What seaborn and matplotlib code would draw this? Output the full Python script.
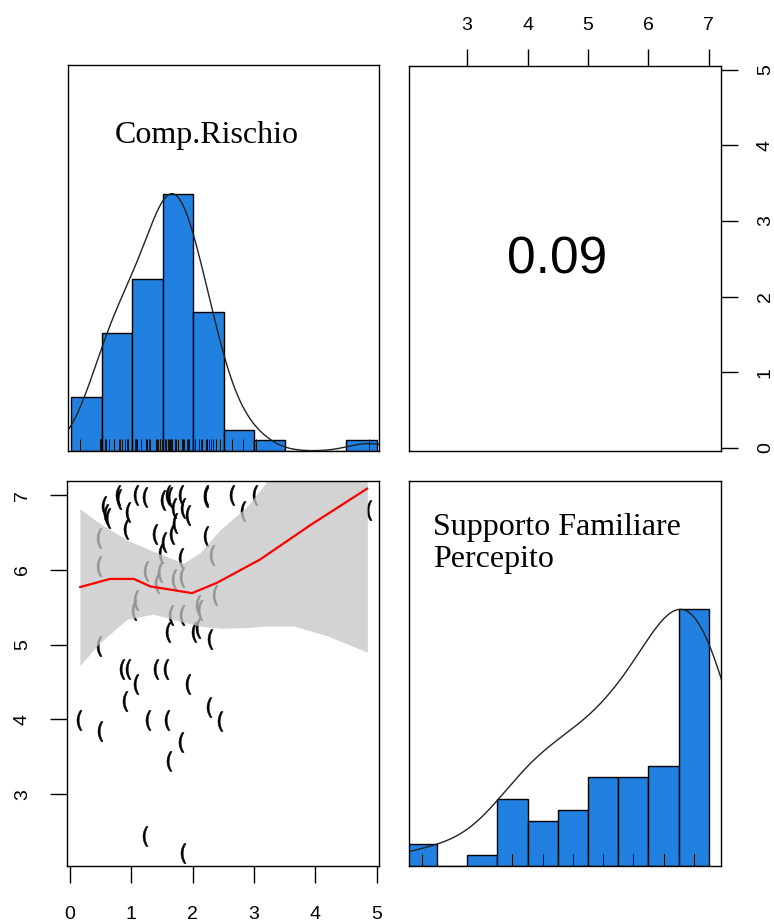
import numpy as np
import pandas as pd
import matplotlib
matplotlib.use("Agg")
import matplotlib.pyplot as plt
import seaborn as sns

# ---------------- data ----------------
comp_rischio = [0.78, 0.80, 1.08, 1.23, 1.51, 1.60, 1.63, 1.81, 2.21, 2.22, 2.64, 3.02,
                0.55, 0.58, 0.62, 0.94, 1.70, 1.85, 1.93, 2.82, 4.87, 0.92, 1.72,
                1.39, 1.66, 2.22, 0.48, 1.54, 1.49, 1.81, 2.32, 0.48,
                1.24, 1.46, 1.70, 1.82, 2.37, 1.08, 2.09, 1.42,
                1.05, 1.65, 1.82, 2.12, 1.60, 2.03, 2.09, 2.29,
                0.84, 0.94, 1.41, 1.56, 0.48,
                1.07, 1.92, 0.89, 2.26,
                0.15, 1.27, 1.58, 2.44, 0.49, 1.81,
                1.62,
                1.23, 1.84,
                0.70, 1.15, 1.30, 1.45, 1.75, 1.90, 2.15]
# raw (discrete) scale scores, used by the histogram and rug
supporto = [7.00, 7.00, 7.00, 7.00, 7.00, 7.00, 7.00, 7.00, 7.00, 7.00, 7.00, 7.00,
            6.75, 6.75, 6.75, 6.75, 6.75, 6.75, 6.75, 6.75, 6.75, 6.75, 6.75,
            6.50, 6.50, 6.50, 6.50, 6.50, 6.25, 6.25, 6.25, 6.25,
            6.00, 6.00, 6.00, 6.00, 5.75, 5.75, 5.75, 5.75,
            5.50, 5.50, 5.50, 5.50, 5.25, 5.25, 5.25, 5.25,
            4.75, 4.75, 4.75, 4.75, 5.00,
            4.50, 4.50, 4.25, 4.25,
            4.00, 4.00, 4.00, 4.00, 3.75, 3.75,
            3.50,
            2.50, 2.25,
            np.nan, np.nan, np.nan, np.nan, np.nan, np.nan, np.nan]
# jiggled positions as shown in the scatter panel
supporto_shown = [7.00, 6.95, 7.00, 6.98, 6.93, 7.00, 6.97, 7.00, 6.97, 7.00, 7.00, 7.00,
                  6.85, 6.75, 6.70, 6.77, 6.83, 6.83, 6.73, 6.79, 6.80, 6.55, 6.63,
                  6.48, 6.48, 6.46, 6.43, 6.38, 6.23, 6.16, 6.20, 6.05,
                  5.98, 5.97, 5.88, 5.90, 5.67, 5.60, 5.53, 5.83,
                  5.46, 5.40, 5.40, 5.47, 5.17, 5.17, 5.22, 5.07,
                  4.68, 4.68, 4.68, 4.68, 4.98,
                  4.47, 4.48, 4.25, 4.17,
                  3.99, 3.99, 3.99, 3.98, 3.85, 3.70,
                  3.45,
                  2.44, 2.22,
                  np.nan, np.nan, np.nan, np.nan, np.nan, np.nan, np.nan]

var_names = ["Comp.Rischio", "Supporto Familiare\nPercepito"]
corr_label = "0.09"

# loess smooth and its confidence band
smooth_x = [0.16, 0.65, 1.04, 1.31, 1.99, 2.40, 3.10, 3.92, 4.85]
smooth_y = [5.77, 5.88, 5.88, 5.78, 5.69, 5.83, 6.14, 6.60, 7.09]
band_x = [0.16, 0.49, 0.93, 1.36, 1.85, 2.12, 2.45, 2.89, 3.21, 3.65, 4.19, 4.85]
band_hi = [6.82, 6.62, 6.40, 6.25, 6.09, 6.23, 6.54, 6.85, 7.18, 7.60, 8.10, 8.80]
band_lo = [4.72, 5.03, 5.34, 5.41, 5.30, 5.25, 5.22, 5.23, 5.25, 5.25, 5.12, 4.90]

x1_ticks = [0, 1, 2, 3, 4, 5]
x2_ticks = [3, 4, 5, 6, 7]
y2_ticks = [3, 4, 5, 6, 7]
y1_ticks = [0, 1, 2, 3, 4, 5]

df = pd.DataFrame({"cr": comp_rischio, "sp": supporto, "sp_shown": supporto_shown})
pairs = df.dropna()

# ---------------- style ----------------
sns.set_style("white")
plt.rcParams["font.family"] = ["Liberation Sans", "DejaVu Sans"]
for k in ("text.color", "axes.labelcolor", "xtick.color", "ytick.color"):
    plt.rcParams[k] = "black"
HIST_COL = "#2180e0"
X1_LIM = (-0.05, 5.04)
X2_LIM = (2.04, 7.20)
EPS = 1e-6  # right-closed bins, as in R's hist()

fig = plt.figure(figsize=(7.74, 9.24), dpi=100)
W, H = 774, 924


def add_ax(x0, y0, x1, y1):
    return fig.add_axes([x0 / W, 1 - y1 / H, (x1 - x0) / W, (y1 - y0) / H])


ax_tl = add_ax(68, 65, 379, 451)
ax_tr = add_ax(409, 66, 721, 451)
ax_bl = add_ax(67, 481, 379, 866)
ax_br = add_ax(409, 481, 721, 866)

for ax in (ax_tl, ax_tr, ax_bl, ax_br):
    for s in ax.spines.values():
        s.set_visible(True)
        s.set_color("black")
        s.set_linewidth(1.0)


def nrd_density(vals):
    v = np.asarray(vals, dtype=float)
    v = v[~np.isnan(v)]
    n = len(v)
    q75, q25 = np.percentile(v, [75, 25])
    bw = 1.06 * min(np.std(v, ddof=1), (q75 - q25) / 1.34) * n ** (-0.2) * 1.2
    grid = np.linspace(v.min() - 3 * bw, v.max() + 3 * bw, 512)
    d = np.exp(-0.5 * ((grid[:, None] - v[None, :]) / bw) ** 2).sum(axis=1)
    return grid, d / d.max()


def diag_panel(ax, vals, bins, xlim):
    v = pd.Series(vals).dropna()
    counts, _ = np.histogram(v, bins=bins)
    mx = counts.max()
    sns.histplot(x=v, bins=bins, ax=ax, color=HIST_COL, edgecolor="black",
                 linewidth=1.0, alpha=1.0, stat="count")
    g, d = nrd_density(v)
    sns.lineplot(x=g, y=d * mx, ax=ax, color="#222222", linewidth=1.0,
                 estimator=None, sort=False)
    sns.rugplot(x=v, ax=ax, height=0.03, color="#111111", linewidth=0.7,
                expand_margins=False)
    ax.set_xlim(*xlim)
    ax.set_ylim(0, 1.5 * mx)
    ax.set_xticks([])
    ax.set_yticks([])
    ax.set_xlabel("")
    ax.set_ylabel("")


comp_bins = np.arange(0, 5.01, 0.5) + EPS
comp_bins[0] = -EPS
sup_bins = np.arange(2, 7.01, 0.5) + EPS
sup_bins[0] = 2 - EPS

diag_panel(ax_tl, df["cr"], comp_bins, X1_LIM)
diag_panel(ax_br, df["sp"], sup_bins, X2_LIM)

serif = ["Liberation Serif", "DejaVu Serif"]
ax_tl.text(0.445, 0.797, var_names[0], transform=ax_tl.transAxes,
           ha="center", va="baseline", fontsize=23, family=serif)
ax_br.text(0.077, 0.838, var_names[1], transform=ax_br.transAxes,
           ha="left", va="center", fontsize=23, linespacing=1.15, family=serif)

# ---------------- correlation panel ----------------
ax_tr.set_xlim(*X2_LIM)
ax_tr.set_ylim(-0.04, 5.05)
ax_tr.text(0.475, 0.495, corr_label, transform=ax_tr.transAxes,
           ha="center", va="center", fontsize=37)
ax_tr.set_xticks(x2_ticks)
ax_tr.set_yticks(y1_ticks)
ax_tr.tick_params(axis="x", top=True, bottom=False, labeltop=True, labelbottom=False,
                  direction="out", length=12, width=1, labelsize=14, pad=11)
ax_tr.tick_params(axis="y", right=True, left=False, labelright=True, labelleft=False,
                  direction="out", length=12, width=1, labelsize=14, pad=20)
for lab in ax_tr.get_yticklabels(which="both"):
    lab.set_rotation(90)
    lab.set_rotation_mode("default")
    lab.set_ha("center")
    lab.set_va("center")

# ---------------- scatter panel ----------------
sns.scatterplot(data=pairs, x="cr", y="sp_shown", ax=ax_bl, marker="$($", s=210,
                color="black", edgecolor="black", linewidth=0.35, zorder=1)
ax_bl.fill_between(band_x, band_lo, band_hi, color="#c5c5c5", alpha=0.76,
                   linewidth=0, zorder=2)
sns.lineplot(x=smooth_x, y=smooth_y, ax=ax_bl, color="red", linewidth=1.6,
             estimator=None, sort=False, zorder=3)
ax_bl.set_xlim(*X1_LIM)
ax_bl.set_ylim(X2_LIM[0], 7.19)
ax_bl.set_xticks(x1_ticks)
ax_bl.set_yticks(y2_ticks)
ax_bl.set_xlabel("")
ax_bl.set_ylabel("")
ax_bl.tick_params(axis="x", bottom=True, direction="out", length=12, width=1,
                  labelsize=14, pad=17)
ax_bl.tick_params(axis="y", left=True, direction="out", length=12, width=1,
                  labelsize=14, pad=14)
for lab in ax_bl.get_yticklabels(which="both"):
    lab.set_rotation(90)
    lab.set_rotation_mode("default")
    lab.set_ha("right")
    lab.set_va("center")

fig.savefig("out.png", dpi=100)
